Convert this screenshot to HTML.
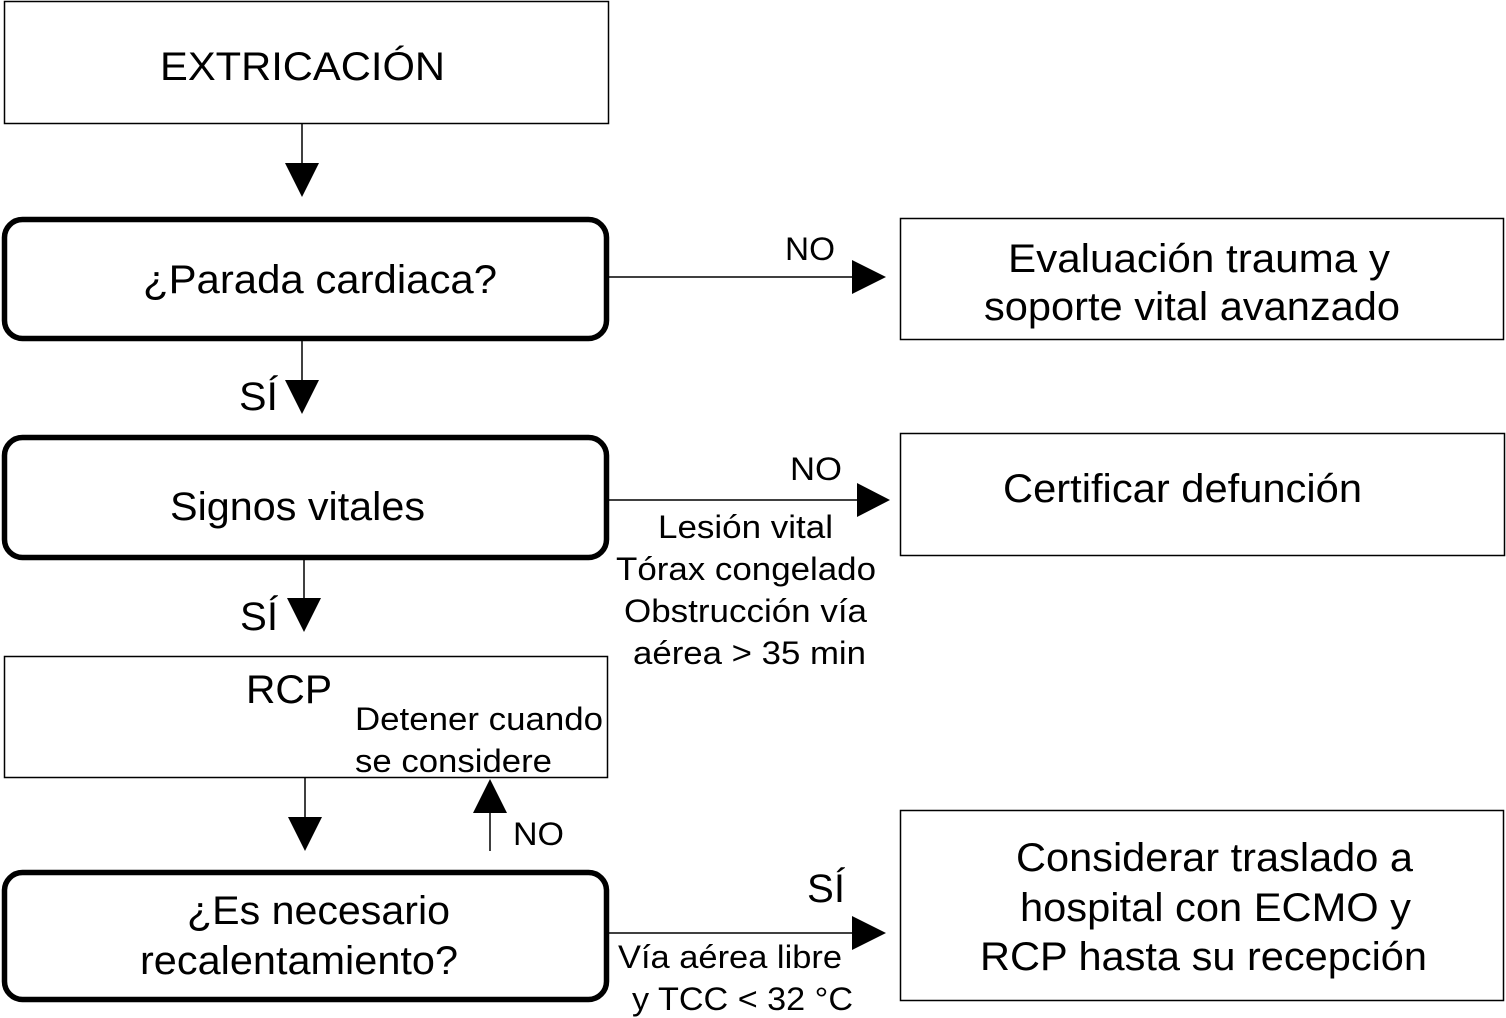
<!DOCTYPE html>
<html><head><meta charset="utf-8"><style>html,body{margin:0;padding:0;background:#fff}svg{display:block}</style></head>
<body>
<svg width="1506" height="1018" viewBox="0 0 1506 1018" xmlns="http://www.w3.org/2000/svg" font-family="Liberation Sans, Arial, sans-serif" fill="#000">
<g fill="#fff" stroke="#000">
<rect x="4.5" y="1.5" width="604" height="122" stroke-width="1.5"/>
<rect x="900.5" y="218.5" width="603" height="121" stroke-width="1.5"/>
<rect x="900.5" y="433.5" width="604" height="122" stroke-width="1.5"/>
<rect x="4.5" y="656.5" width="603" height="121" stroke-width="1.5"/>
<rect x="900.5" y="810.5" width="603" height="190" stroke-width="1.5"/>
<rect x="4.5" y="219.5" width="602" height="119" rx="18" stroke-width="5.5"/>
<rect x="4.5" y="437.5" width="602" height="120" rx="18" stroke-width="5.5"/>
<rect x="4.5" y="872.5" width="602" height="127" rx="18" stroke-width="5.5"/>
</g>
<g stroke="#000" stroke-width="1.5">
<line x1="302" y1="123" x2="302" y2="165"/>
<line x1="302" y1="341" x2="302" y2="382"/>
<line x1="304" y1="560" x2="304" y2="600"/>
<line x1="305" y1="777" x2="305" y2="819"/>
<line x1="490" y1="851" x2="490" y2="810"/>
<line x1="609" y1="277" x2="855" y2="277"/>
<line x1="609" y1="500" x2="860" y2="500"/>
<line x1="609" y1="933" x2="855" y2="933"/>
</g>
<polygon points="285,163 319,163 302,197"/>
<polygon points="285,380 319,380 302,414"/>
<polygon points="287,598 321,598 304,632"/>
<polygon points="288,817 322,817 305,851"/>
<polygon points="473,813 507,813 490,779"/>
<polygon points="852,260 852,294 886,277"/>
<polygon points="857,483 857,517 890,500"/>
<polygon points="852,916 852,950 886,933"/>
<g font-size="40">
<text x="160" y="80" textLength="285" lengthAdjust="spacingAndGlyphs">EXTRICACIÓN</text>
<text x="143" y="293" textLength="354" lengthAdjust="spacingAndGlyphs">¿Parada cardiaca?</text>
<text x="1008" y="272" textLength="382" lengthAdjust="spacingAndGlyphs">Evaluación trauma y</text>
<text x="984" y="320" textLength="416" lengthAdjust="spacingAndGlyphs">soporte vital avanzado</text>
<text x="170" y="520" textLength="255" lengthAdjust="spacingAndGlyphs">Signos vitales</text>
<text x="1003" y="502" textLength="359" lengthAdjust="spacingAndGlyphs">Certificar defunción</text>
<text x="246" y="703" textLength="86" lengthAdjust="spacingAndGlyphs">RCP</text>
<text x="187" y="924" textLength="263" lengthAdjust="spacingAndGlyphs">¿Es necesario</text>
<text x="140" y="974" textLength="318" lengthAdjust="spacingAndGlyphs">recalentamiento?</text>
<text x="1016" y="871" textLength="397" lengthAdjust="spacingAndGlyphs">Considerar traslado a</text>
<text x="1020" y="921" textLength="391" lengthAdjust="spacingAndGlyphs">hospital con ECMO y</text>
<text x="980" y="970" textLength="447" lengthAdjust="spacingAndGlyphs">RCP hasta su recepción</text>
<text x="239" y="410" textLength="39" lengthAdjust="spacingAndGlyphs">SÍ</text>
<text x="240" y="630" textLength="38" lengthAdjust="spacingAndGlyphs">SÍ</text>
<text x="807" y="902" textLength="38" lengthAdjust="spacingAndGlyphs">SÍ</text>
</g>
<g font-size="32">
<text x="785" y="260" textLength="50" lengthAdjust="spacingAndGlyphs">NO</text>
<text x="790" y="480" textLength="52" lengthAdjust="spacingAndGlyphs">NO</text>
<text x="513" y="845" textLength="51" lengthAdjust="spacingAndGlyphs">NO</text>
<text x="658" y="538" textLength="175" lengthAdjust="spacingAndGlyphs">Lesión vital</text>
<text x="616" y="580" textLength="260" lengthAdjust="spacingAndGlyphs">Tórax congelado</text>
<text x="624" y="622" textLength="243" lengthAdjust="spacingAndGlyphs">Obstrucción vía</text>
<text x="633" y="664" textLength="233" lengthAdjust="spacingAndGlyphs">aérea &gt; 35 min</text>
<text x="355" y="730" textLength="248" lengthAdjust="spacingAndGlyphs">Detener cuando</text>
<text x="355" y="772" textLength="197" lengthAdjust="spacingAndGlyphs">se considere</text>
<text x="618" y="968" textLength="224" lengthAdjust="spacingAndGlyphs">Vía aérea libre</text>
<text x="632" y="1010" textLength="221" lengthAdjust="spacingAndGlyphs">y TCC &lt; 32 °C</text>
</g>
</svg>
</body></html>
